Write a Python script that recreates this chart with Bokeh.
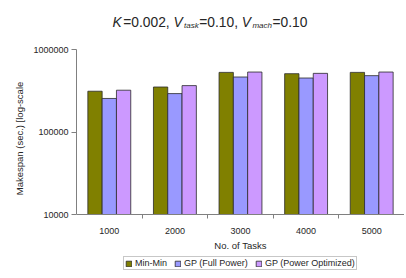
import math
from bokeh.plotting import figure
from bokeh.models import (ColumnDataSource, Range1d, FixedTicker, NumeralTickFormatter,
                          Legend, LegendItem, Label)
from bokeh.transform import dodge
from bokeh.embed import file_html
from bokeh.resources import INLINE

# ---- data ----
tasks = ["1000", "2000", "3000", "4000", "5000"]
min_min = [312000, 351000, 528000, 509000, 528000]
gp_full = [255000, 292000, 464000, 451000, 482000]
gp_opt = [321000, 365000, 533000, 514000, 533000]
series_names = ["Min-Min", "GP (Full Power)", "GP (Power Optimized)"]
colors = ["#808000", "#9999FF", "#CC99FF"]
y_ticks = [10000, 100000, 1000000]

pos = [i + 1 for i in range(len(tasks))]
src = ColumnDataSource(dict(x=pos, a=min_min, b=gp_full, c=gp_opt))

FONT = "Liberation Sans"
TXT = "#262626"
FIG_W, FIG_H = 404, 276
LEFT = 76
# pixel rows (figure coords) of the top and bottom y ticks
TOP_PX, BOT_PX = 49, 214
lt, lb = math.log10(y_ticks[-1]), math.log10(y_ticks[0])
per_dec = (BOT_PX - TOP_PX) / (lt - lb)
y_lo = 10 ** (lb - (FIG_H - BOT_PX) / per_dec)
y_hi = 10 ** (lt + TOP_PX / per_dec)

p = figure(width=FIG_W, height=FIG_H, output_backend="svg", toolbar_location=None,
           y_axis_type="log", x_range=Range1d(0.5, len(tasks) + 0.5),
           y_range=Range1d(y_lo, y_hi),
           min_border_left=LEFT, min_border_right=0, min_border_top=0, min_border_bottom=0)
p.outline_line_color = None
p.xgrid.visible = False
p.ygrid.visible = False
p.background_fill_color = "white"

bw = 0.218
rs = []
for key, off, col in zip(["a", "b", "c"], [-bw, 0, bw], colors):
    r = p.vbar(x=dodge("x", off, range=p.x_range), top=key, bottom=y_ticks[0], width=bw,
               source=src, fill_color=col, line_color="#2a2a2a", line_width=0.8)
    rs.append(r)

xa = p.xaxis[0]
xa.fixed_location = y_ticks[0]
xa.ticker = FixedTicker(ticks=pos, minor_ticks=[v + 0.5 for v in pos[:-1]])
xa.major_label_overrides = {v: s_ for v, s_ in zip(pos, tasks)}
xa.major_tick_line_color = None
xa.major_tick_out = 0
xa.major_tick_in = 0
xa.minor_tick_line_color = "#808080"
xa.minor_tick_out = 4
xa.minor_tick_in = 0
xa.major_label_standoff = 9
xa.axis_label = "No. of Tasks"
xa.axis_label_standoff = 3
xa.axis_line_color = "#808080"

ya = p.yaxis[0]
ya.bounds = (y_ticks[0], y_ticks[-1])
ya.ticker = FixedTicker(ticks=y_ticks)
ya.formatter = NumeralTickFormatter(format="0")
ya.minor_tick_line_color = None
ya.major_tick_out = 5
ya.major_tick_in = 0
ya.major_tick_line_color = "#808080"
ya.major_label_standoff = 3
ya.axis_label = "Makespan (sec.) [log-scale"
ya.axis_label_standoff = 5
ya.axis_line_color = "#808080"

for ax in (xa, ya):
    ax.major_label_text_font = FONT
    ax.major_label_text_font_size = "9px"
    ax.major_label_text_color = TXT
    ax.axis_label_text_font = FONT
    ax.axis_label_text_font_size = "9.5px"
    ax.axis_label_text_font_style = "normal"
    ax.axis_label_text_color = TXT

legend = Legend(items=[LegendItem(label=n, renderers=[r]) for n, r in zip(series_names, rs)],
                orientation="horizontal", location=(47, 6),
                label_text_font=FONT, label_text_font_size="9px", label_text_color=TXT,
                glyph_width=7, glyph_height=7, label_standoff=3, spacing=7,
                padding=1, margin=0, border_line_color="#909090", label_height=9)
p.add_layout(legend, "center")

# ---- title built from text runs (italic symbols and subscripts) ----
Wd = {"K": .667, "V": .667, "=": .584, "0": .556, "1": .556, "2": .556, ".": .278,
      ",": .278, " ": .278, "t": .278, "a": .556, "s": .5, "k": .5, "m": .833,
      "c": .5, "h": .556}
base, sub = 13.8, 8.0
runs = [("K", "italic", base, 0, 1.5), ("=0.002,", "normal", base, 0, 3.7),
        ("V", "italic", base, 0, 1.5), ("task", "italic", sub, -3, 0.5),
        ("=0.10,", "normal", base, 0, 3.7),
        ("V", "italic", base, 0, 1.5), ("mach", "italic", sub, -3, 0.5),
        ("=0.10", "normal", base, 0, 0)]
widths = [sum(Wd[ch] for ch in s_) * s + extra for s_, _, s, _, extra in runs]
total = sum(widths)
cx = 209.5 - LEFT              # relative to the frame's left edge
baseline = FIG_H - 22          # measured up from the frame's bottom
x0 = cx - total / 2
for (txt, st, s, dy, extra), w in zip(runs, widths):
    p.add_layout(Label(x=x0, y=baseline + dy, x_units="screen", y_units="screen", text=txt,
                       text_font=FONT, text_font_size=f"{s}px", text_font_style=st,
                       text_color=TXT, text_baseline="alphabetic", text_align="left"))
    x0 += w

open("out.html", "w").write(file_html(p, INLINE))
